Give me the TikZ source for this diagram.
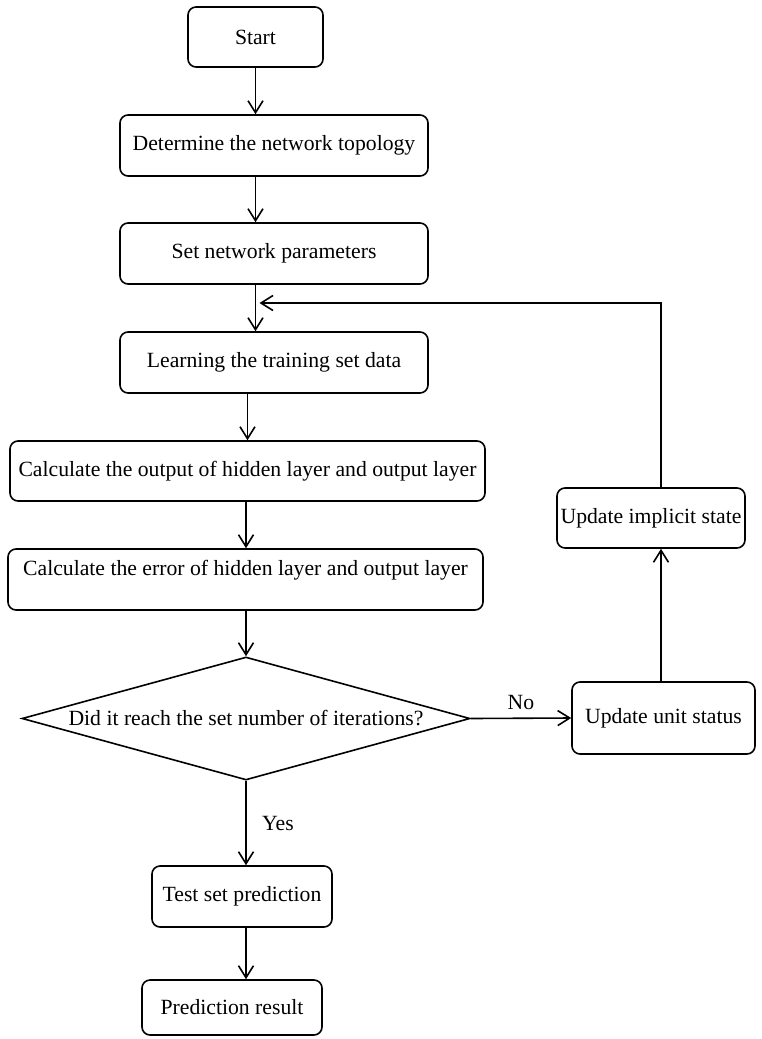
\documentclass[tikz,border=0pt]{standalone}
\usepackage{fontspec}
\setmainfont{Liberation Serif}
\newfontfamily\letra{Liberation Serif}
\usetikzlibrary{arrows.meta,shapes.geometric}
\begin{document}
\begin{tikzpicture}[x=1pt,y=-1pt,line width=1.6pt,
  every node/.style={font=\letra\fontsize{21.7}{26}\selectfont},
  caja/.style={draw,rounded corners=8pt,inner sep=2pt,
    minimum width=#1,minimum height=61pt},
  rombo/.style={draw,diamond,aspect=3.64,inner sep=0pt,
    minimum width=448pt,minimum height=123pt},
  flecha/.style={-{Straight Barb[length=12pt,width=15pt,line width=1.6pt]}}]
\useasboundingbox (0,0) rectangle (761,1039);
\node[caja=135pt,minimum height=60pt] (inicio) at (255.5,37) {Start};
\node[caja=308pt] (topo) at (274,145.5) {Determine the network topology};
\node[caja=308pt] (param) at (274,253.5) {Set network parameters};
\node[caja=308pt] (aprende) at (274,362.5) {Learning the training set data};
\node[caja=475pt,minimum height=60pt] (salida) at (247.5,471)
  {Calculate the output of hidden layer and output layer};
\node[caja=475pt,text depth=24pt] (error) at (245.5,579.5)
  {Calculate the error of hidden layer and output layer};
\node[rombo] (iter) at (246,718.5) {Did it reach the set number of iterations?};
\node[caja=183pt,minimum height=72pt] (unidad) at (663.5,718) {Update unit status};
\node[caja=188pt,minimum height=60pt] (implicito) at (651,518) {Update implicit state};
\node[caja=180pt] (prueba) at (242,896.5) {Test set prediction};
\node[caja=180pt,minimum height=55pt] (resultado) at (232,1007.5) {Prediction result};
\coordinate (vuelta) at (661,303);
% Flujo principal
\draw[flecha] (inicio) -- (inicio |- topo.north);
\draw[flecha] (topo.south -| inicio) -- (param.north -| inicio);
\draw[flecha] (param.south -| inicio) -- (aprende.north -| inicio);
\draw[flecha] (aprende.south -| salida) -- (salida);
\draw[flecha] (salida.south -| iter) -- (error.north -| iter);
\draw[flecha] (error.south -| iter) -- (iter.north);
\draw[flecha] (iter.east) -- (unidad.west) node[midway,above=4pt] {No};
\draw[flecha] (iter.south) -- (iter.south |- prueba.north)
  node[midway,right=12pt] {Yes};
\draw[flecha] (prueba.south -| iter) -- (resultado.north -| iter);
% Lazo
\draw[flecha] (unidad.north -| vuelta) -- (implicito.south -| vuelta);
\draw[flecha,shorten >=4pt] (implicito.north -| vuelta) -- (vuelta)
  -- (vuelta -| inicio);
\end{tikzpicture}
\end{document}
